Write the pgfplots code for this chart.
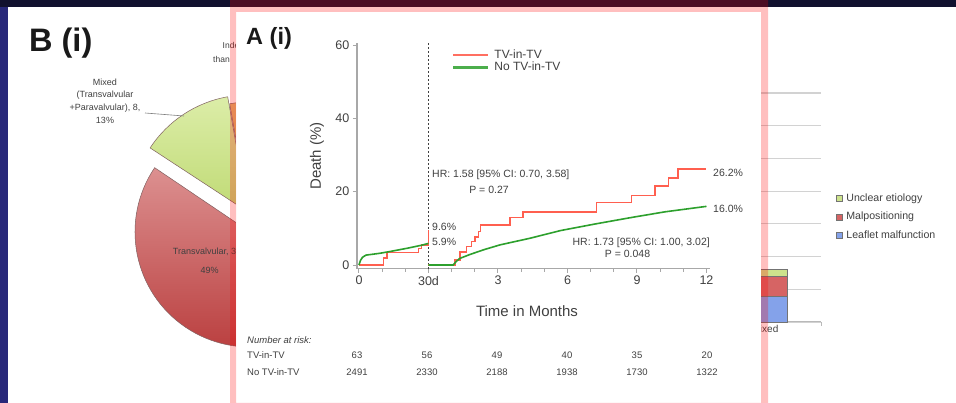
\documentclass[border=0pt]{standalone}
\usepackage{pgfplots}
\pgfplotsset{compat=1.18}
\usepackage{fontspec}
\setmainfont{Liberation Sans}
\definecolor{navy}{HTML}{11112F}
\definecolor{leftblue}{HTML}{28287A}
\definecolor{kmred}{HTML}{FF5F4F}
\definecolor{kmgreen}{HTML}{2DA02D}
\definecolor{axgray}{HTML}{A8A8A8}
\definecolor{txt}{HTML}{404040}
\definecolor{pieredtop}{HTML}{DC9090}
\definecolor{pieredbot}{HTML}{B83A3A}
\definecolor{piegreentop}{HTML}{DCEDA8}
\definecolor{piegreenbot}{HTML}{BFDA74}
\definecolor{pieorange}{HTML}{D8A850}
\definecolor{pieline}{HTML}{806060}
\definecolor{barblue}{HTML}{84A2EA}
\definecolor{barred}{HTML}{D66464}
\definecolor{bargreen}{HTML}{CDE38C}
\begin{document}
\begin{tikzpicture}[x=1pt,y=1pt]
\useasboundingbox (0,0) rectangle (956,403);
% ---------- slide background ----------
\fill[white] (0,0) rectangle (956,403);
\fill[navy] (0,396) rectangle (956,403);
\fill[leftblue] (0,0) rectangle (8,396);
% ---------- panel B: pie (shares in percent) ----------
\fill[barblue!70] (250,181) -- ++(-37.6:115) arc[start angle=-37.6,end angle=90,radius=115] -- cycle;
\shadedraw[top color=pieorange!80, bottom color=pieorange, draw=pieline, line width=0.5pt]
  (250,184) -- ++(90:117) arc[start angle=90,end angle=100,radius=117] -- cycle;
\shadedraw[top color=piegreentop, bottom color=piegreenbot, draw=pieline, line width=0.5pt]
  (248,191) -- ++(100:117) arc[start angle=100,end angle={100+3.6*13},radius=117] -- cycle;
\shadedraw[top color=pieredtop, bottom color=pieredbot, draw=pieline, line width=0.5pt]
  (250,171) -- ++(146:115) arc[start angle=146,end angle={146+3.6*49},radius=115] -- cycle;
\node[anchor=base west, inner sep=0pt, font=\bfseries\fontsize{32.5}{32.5}\selectfont, text=black!90] at (29,351) {B (i)};
\node[align=center, font=\fontsize{9}{12.8}\selectfont, text=txt] at (105,302) {Mixed\\(Transvalvular\\+Paravalvular), 8,\\13\%};
\draw[gray, line width=0.6pt] (145,290) -- (184,287);
\node[anchor=west, inner sep=0pt, font=\fontsize{9}{9}\selectfont, text=txt] at (172.7,151) {Transvalvular, 30,};
\node[inner sep=0pt, font=\fontsize{9}{9}\selectfont, text=txt] at (209.7,132.3) {49\%};
\node[anchor=west, inner sep=0pt, font=\fontsize{8.5}{8.5}\selectfont, text=txt] at (222.5,358) {Inde};
\node[anchor=west, inner sep=0pt, font=\fontsize{8.5}{8.5}\selectfont, text=txt] at (213,344) {than};
% ---------- panel B: stacked bars ----------
\begin{axis}[
  at={(485pt,81pt)}, anchor=south west, scale only axis, width=336pt, height=229pt,
  xmin=-0.5, xmax=2.5, ymin=0, ymax=35,
  ybar stacked, bar width=45pt,
  axis x line*=bottom, axis y line*=left,
  axis line style={draw=gray!55, line width=1pt},
  ytick={0,5,...,35}, yticklabels={}, ytick style={draw=none},
  ymajorgrids, grid style={draw=gray!35, line width=1.2pt},
  xtick={-0.5,0.5,1.5,2.5}, xticklabels={},
  xtick style={draw=gray!55, line width=0.8pt}, tick align=outside, major tick length=4pt,
  extra x ticks={0,1,2}, extra x tick labels={Transvalvular,Paravalvular,Mixed},
  extra x tick style={major tick length=0pt, grid=none},
  x tick label style={font=\fontsize{10}{10}\selectfont, text=txt},
  reverse legend,
  legend style={at={(1.045,0.566)}, anchor=north west, draw=none, fill=none,
    font=\fontsize{10.6}{10.6}\selectfont, text=txt, row sep=7.5pt, inner sep=0pt,
    nodes={inner sep=1pt}},
  legend cell align=left,
  legend image code/.code={\draw[#1,draw=black!55,line width=0.6pt] (0pt,-3pt) rectangle (6pt,3pt); \path (8.5pt,0pt);},
  clip=false,
]
\addplot[fill=barblue, draw=black!55, line width=0.5pt] coordinates {(2,4)};
\addlegendentry{Leaflet malfunction}
\addplot[fill=barred, draw=black!55, line width=0.5pt] coordinates {(2,3)};
\addlegendentry{Malpositioning}
\addplot[fill=bargreen, draw=black!55, line width=0.5pt] coordinates {(2,1)};
\addlegendentry{Unclear etiology}
\node[font=\fontsize{10}{10}\selectfont, text=black!80] at (axis cs:2,2) {4};
\node[font=\fontsize{10}{10}\selectfont, text=black!80] at (axis cs:2,5.5) {3};
\node[font=\fontsize{8}{8}\selectfont, text=black!80] at (axis cs:2,7.5) {1};
\end{axis}
% ---------- panel A frame ----------
\fill[white] (236,0) rectangle (761,391);
\fill[red, opacity=0.25, even odd rule] (230,0) rectangle (768,403) (236,0) rectangle (761,391);
\node[anchor=base west, inner sep=0pt, font=\bfseries\fontsize{23.5}{23.5}\selectfont, text=black!90] at (246,358) {A (i)};
% ---------- panel A: Kaplan-Meier ----------
\begin{axis}[
  at={(356.9pt,134.3pt)}, anchor=south west,
  scale only axis, width=353.06pt, height=225.5pt,
  xmin=-0.03, xmax=5.05, ymin=-1, ymax=60.5,
  axis x line*=bottom, axis y line*=left,
  axis line style={draw=axgray, line width=1.6pt},
  xtick={0,1,2,3,4,5}, xticklabels={0,30d,3,6,9,12},
  minor x tick num=2,
  ytick={0,20,40,60},
  tick align=outside, major tick length=4pt, minor tick length=3pt,
  every tick/.style={draw=axgray, line width=1pt},
  tick label style={font=\fontsize{12.5}{12.5}\selectfont, text=txt},
  /pgf/number format/assume math mode=true,
  legend style={at={(0.269,0.975)}, anchor=north west, draw=none, fill=none,
    font=\fontsize{12}{12}\selectfont, text=txt, inner sep=0pt, row sep=0pt,
    nodes={inner sep=1pt}},
  legend cell align=left,
  legend image code/.code={\draw[#1] (0pt,0pt) -- (35pt,0pt); \path (39pt,0pt);},
  clip=false,
]
\addlegendimage{kmred!90, line width=2.4pt}
\addlegendentry{TV-in-TV}
\addlegendimage{kmgreen!85, line width=2.4pt}
\addlegendentry{No TV-in-TV}
\addplot[black!75, line width=1pt, dash pattern=on 2pt off 2pt, forget plot] coordinates {(1,-1) (1,60.5)};
\addplot[const plot, kmred, line width=1.5pt, forget plot] coordinates {
  (0,0) (0.35,1.9) (0.40,3.4) (0.855,4.5) (0.90,5.5) (1.0,9.6)};
\addplot[kmgreen, line width=1.6pt, forget plot] coordinates {
  (0,0) (0.02,1.2) (0.05,2.1) (0.10,2.7) (0.30,3.2) (0.45,3.7) (0.70,4.6) (0.90,5.4) (1.0,5.9)};
\addplot[const plot, kmred, line width=1.5pt, forget plot] coordinates {
  (1.0,0) (1.38,1.4) (1.45,3.6) (1.55,5.0) (1.62,6.4) (1.67,7.7) (1.72,9.1) (1.745,10.9)
  (2.17,12.9) (2.36,14.5) (3.42,17.0) (3.92,19.0) (4.26,21.5) (4.45,23.8) (4.59,26.2) (5.0,26.2)};
\addplot[kmgreen, line width=1.6pt, forget plot] coordinates {
  (1.0,0) (1.355,0) (1.40,1.0) (1.45,1.8) (1.60,2.9) (1.80,4.2) (2.03,5.5) (2.46,7.3)
  (2.90,9.4) (3.40,11.2) (3.90,12.9) (4.40,14.5) (5.0,16.0)};
\end{axis}
% ---------- panel A: labels and annotations ----------
\node[rotate=90, font=\fontsize{15}{15}\selectfont, text=txt] at (317,247) {Death (\%)};
\node[anchor=base, inner sep=0pt, font=\fontsize{15}{15}\selectfont, text=txt] at (527,86) {Time in Months};
\begin{scope}[every node/.style={inner sep=0pt, font=\fontsize{10.5}{10.5}\selectfont, text=txt}]
\node[anchor=base west] at (432,225.5) {HR: 1.58 [95\% CI: 0.70, 3.58]};
\node[anchor=base] at (489,209) {P = 0.27};
\node[anchor=base west] at (432,172) {9.6\%};
\node[anchor=base west] at (432,157.5) {5.9\%};
\node[anchor=base east] at (710,157.5) {HR: 1.73 [95\% CI: 1.00, 3.02]};
\node[anchor=base] at (627.5,145) {P = 0.048};
\node[anchor=base west] at (713,226.5) {26.2\%};
\node[anchor=base west] at (713,190.5) {16.0\%};
\end{scope}
% ---------- number at risk ----------
\begin{scope}[every node/.style={inner sep=0pt, font=\fontsize{9.5}{9.5}\selectfont, text=txt}]
\node[anchor=base west, font=\itshape\fontsize{9.5}{9.5}\selectfont] at (247,59) {Number at risk:};
\node[anchor=base west] at (247,44) {TV-in-TV};
\node[anchor=base west] at (247,27) {No TV-in-TV};
\node[anchor=base] at (357,44) {63};
\node[anchor=base] at (427,44) {56};
\node[anchor=base] at (497,44) {49};
\node[anchor=base] at (567,44) {40};
\node[anchor=base] at (637,44) {35};
\node[anchor=base] at (707,44) {20};
\node[anchor=base] at (357,27) {2491};
\node[anchor=base] at (427,27) {2330};
\node[anchor=base] at (497,27) {2188};
\node[anchor=base] at (567,27) {1938};
\node[anchor=base] at (637,27) {1730};
\node[anchor=base] at (707,27) {1322};
\end{scope}
\end{tikzpicture}
\end{document}
